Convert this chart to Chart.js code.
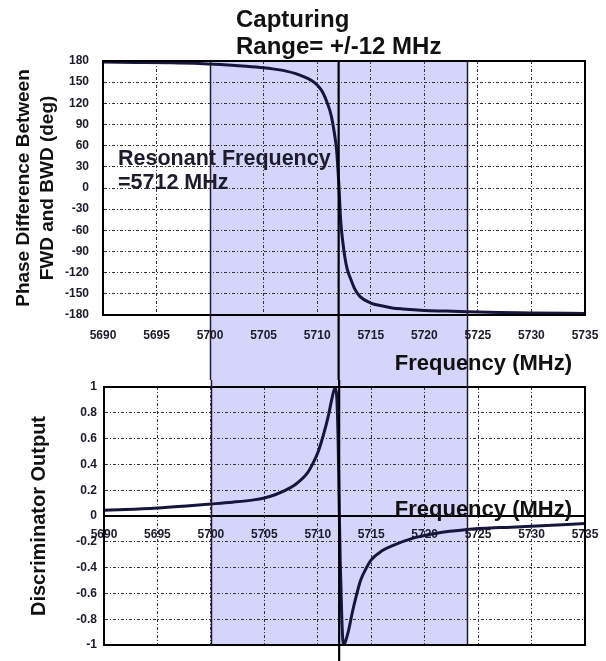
<!DOCTYPE html>
<html>
<head>
<meta charset="utf-8">
<script src="https://cdn.jsdelivr.net/npm/chart.js@4.4.0/dist/chart.umd.min.js"></script>
<style>
  body { margin: 0; background: #fff; }
  #wrap { position: relative; width: 606px; height: 661px; }
  canvas { position: absolute; left: 0; }
  #phaseChart { top: 0; }
  #discChart { top: 380px; }
</style>
</head>
<body>
<div id="wrap">
  <canvas id="phaseChart" width="606" height="380"></canvas>
  <canvas id="discChart" width="606" height="281"></canvas>
</div>
<script>
// frequency axis (MHz)
const freqTicks = [5690, 5695, 5700, 5705, 5710, 5715, 5720, 5725, 5730, 5735];
const captureLow = 5700;
const captureHigh = 5724;
const resonance = 5712;

// phase difference between FWD and BWD (deg)
const phaseFreq = [5690, 5693, 5696, 5699, 5701, 5703, 5705, 5706, 5707, 5708, 5709, 5709.5,
  5710, 5710.5, 5711, 5711.3, 5711.6, 5711.8, 5712, 5712.2, 5712.4, 5712.6, 5712.8, 5713.1,
  5713.5, 5714, 5715, 5716, 5717, 5718, 5720, 5722, 5724, 5727, 5730, 5735];
const phaseDeg = [178.5, 178, 177.5, 176.5, 175, 173, 170.5, 168.5, 166, 162, 156, 152,
  146, 136, 118, 103, 78, 55, 10, -48, -78, -100, -115, -128,
  -143, -154, -163, -167, -170, -171.5, -173.5, -174.5, -175.5, -176.5, -177, -178];

// discriminator output
const discFreq = [5690, 5692, 5695, 5698, 5700, 5702, 5704, 5705, 5706, 5707, 5708, 5709,
  5709.5, 5710, 5710.5, 5711, 5711.3, 5711.6, 5711.75, 5711.9, 5712, 5712.1, 5712.25, 5712.4,
  5712.6, 5712.9, 5713.2, 5713.6, 5714, 5714.5, 5715, 5716, 5717, 5719, 5721, 5724, 5727, 5730, 5735];
const discOut = [0.045, 0.05, 0.062, 0.08, 0.093, 0.107, 0.125, 0.14, 0.165, 0.2, 0.25, 0.33,
  0.4, 0.49, 0.62, 0.78, 0.9, 0.99, 0.95, 0.6, 0.1, -0.35, -0.8, -1.0,
  -0.97, -0.88, -0.76, -0.62, -0.5, -0.41, -0.34, -0.27, -0.23, -0.17, -0.135, -0.105, -0.09, -0.08, -0.058];

const FONT = 'Liberation Sans, Arial, Helvetica, sans-serif';
const curveColor = '#16163c';
const bandColor = '#d5d5fb';

function toPoints(xs, ys) {
  return xs.map((x, i) => ({ x: x, y: ys[i] }));
}

function freqLabel(v) {
  return String(v);
}

// shaded capture band plus its edges and the resonance line
function bandPlugin(isTop) {
  return {
    id: 'band',
    beforeDraw(chart) {
      const { ctx, chartArea, scales } = chart;
      const x1 = scales.x.getPixelForValue(captureLow);
      const x2 = scales.x.getPixelForValue(captureHigh);
      const y1 = isTop ? chartArea.top : 0;
      const y2 = isTop ? chart.height : chartArea.bottom;
      ctx.save();
      ctx.fillStyle = bandColor;
      ctx.fillRect(x1, y1, x2 - x1, y2 - y1);
      ctx.restore();
    },
    afterDraw(chart) {
      const { ctx, chartArea, scales } = chart;
      ctx.save();
      ctx.strokeStyle = '#000';
      ctx.lineWidth = 2;
      ctx.strokeRect(chartArea.left, chartArea.top, chartArea.right - chartArea.left, chartArea.bottom - chartArea.top);
      const y1 = isTop ? chartArea.top : 0;
      const y2 = isTop ? chart.height : chartArea.bottom;
      ctx.strokeStyle = '#1c1c34';
      ctx.lineWidth = 1.5;
      [captureLow, captureHigh].forEach(f => {
        const x = Math.round(scales.x.getPixelForValue(f)) + 0.5;
        ctx.beginPath();
        ctx.moveTo(x, y1);
        ctx.lineTo(x, y2);
        ctx.stroke();
      });
      ctx.strokeStyle = '#000';
      ctx.lineWidth = 2.2;
      const xr = scales.x.getPixelForValue(resonance);
      ctx.beginPath();
      ctx.moveTo(xr, y1);
      ctx.lineTo(xr, chart.height);
      ctx.stroke();
      ctx.restore();
    }
  };
}

function notesPlugin(notes) {
  return {
    id: 'notes',
    afterDraw(chart) {
      const ctx = chart.ctx;
      ctx.save();
      notes.forEach(n => {
        ctx.font = 'bold ' + n.size + 'px ' + FONT;
        ctx.fillStyle = n.color || '#111';
        ctx.textAlign = n.align || 'left';
        ctx.textBaseline = 'alphabetic';
        ctx.fillText(n.text, n.x, n.y);
      });
      ctx.restore();
    }
  };
}

const gridOpts = { color: '#333', lineWidth: 1, drawTicks: false };
const gridDash = [3, 2, 1, 2];
const tickFont = { family: FONT, size: 12, weight: 'bold' };

new Chart(document.getElementById('phaseChart'), {
  type: 'line',
  data: {
    datasets: [{
      data: toPoints(phaseFreq, phaseDeg),
      borderColor: curveColor,
      borderWidth: 3,
      pointRadius: 0,
      cubicInterpolationMode: 'monotone',
      fill: false
    }]
  },
  options: {
    responsive: false,
    animation: false,
    layout: { padding: { top: 61, right: 21, bottom: 0, left: 0 } },
    plugins: { legend: { display: false }, tooltip: { enabled: false } },
    scales: {
      x: {
        type: 'linear',
        min: 5690, max: 5735,
        afterBuildTicks: s => { s.ticks = freqTicks.map(v => ({ value: v })); },
        afterFit: s => { s.height = 65; s.paddingLeft = 0; s.paddingRight = 0; },
        grid: gridOpts,
        border: { display: true, color: '#000', width: 2, dash: gridDash },
        ticks: { font: tickFont, color: '#1a1a2a', padding: 13, maxRotation: 0, autoSkip: false, callback: freqLabel }
      },
      y: {
        min: -180, max: 180,
        afterFit: s => { s.width = 103; s.paddingTop = 0; s.paddingBottom = 0; },
        grid: gridOpts,
        border: { display: true, color: '#000', width: 2, dash: gridDash },
        ticks: { stepSize: 30, font: tickFont, color: '#1a1a2a', padding: 14, autoSkip: false },
        title: {
          display: true,
          text: ['Phase Difference Between', 'FWD and BWD (deg)'],
          color: '#111',
          font: { family: FONT, size: 19, weight: 'bold', lineHeight: 1.3 },
          padding: { top: 11, bottom: 0 }
        }
      }
    }
  },
  plugins: [bandPlugin(true), notesPlugin([
    { text: 'Capturing', x: 236, y: 27, size: 24 },
    { text: 'Range= +/-12 MHz', x: 236, y: 54, size: 24 },
    { text: 'Resonant Frequency', x: 118, y: 165, size: 21.5, color: '#1c1c2c' },
    { text: '=5712 MHz', x: 118, y: 189, size: 21.5, color: '#1c1c2c' },
    { text: 'Frequency (MHz)', x: 572, y: 370, size: 22, align: 'right' }
  ])]
});

new Chart(document.getElementById('discChart'), {
  type: 'line',
  data: {
    datasets: [{
      data: toPoints(discFreq, discOut),
      borderColor: curveColor,
      borderWidth: 3,
      pointRadius: 0,
      cubicInterpolationMode: 'monotone',
      fill: false
    }]
  },
  options: {
    responsive: false,
    animation: false,
    layout: { padding: { top: 7, right: 21, bottom: 16, left: 0 } },
    plugins: { legend: { display: false }, tooltip: { enabled: false } },
    scales: {
      x: {
        type: 'linear',
        position: { y: 0 },
        min: 5690, max: 5735,
        afterBuildTicks: s => { s.ticks = freqTicks.map(v => ({ value: v })); },
        afterFit: s => { s.paddingLeft = 0; s.paddingRight = 0; },
        grid: gridOpts,
        border: { display: true, color: '#000', width: 2, dash: gridDash },
        ticks: { font: tickFont, color: '#1a1a2a', padding: 11, maxRotation: 0, autoSkip: false, callback: freqLabel }
      },
      y: {
        min: -1, max: 1,
        afterFit: s => { s.width = 104; s.paddingTop = 0; s.paddingBottom = 0; },
        grid: gridOpts,
        border: { display: true, color: '#000', width: 2, dash: gridDash },
        ticks: {
          stepSize: 0.2, font: tickFont, color: '#1a1a2a', padding: 7, autoSkip: false,
          callback: v => String(Math.round(v * 10) / 10)
        },
        title: {
          display: true,
          text: 'Discriminator Output',
          color: '#111',
          font: { family: FONT, size: 20, weight: 'bold', lineHeight: 1.2 },
          padding: { top: 27, bottom: 0 }
        }
      }
    }
  },
  plugins: [bandPlugin(false), notesPlugin([
    { text: 'Frequency (MHz)', x: 572, y: 136, size: 22, align: 'right' }
  ])]
});
</script>
</body>
</html>
